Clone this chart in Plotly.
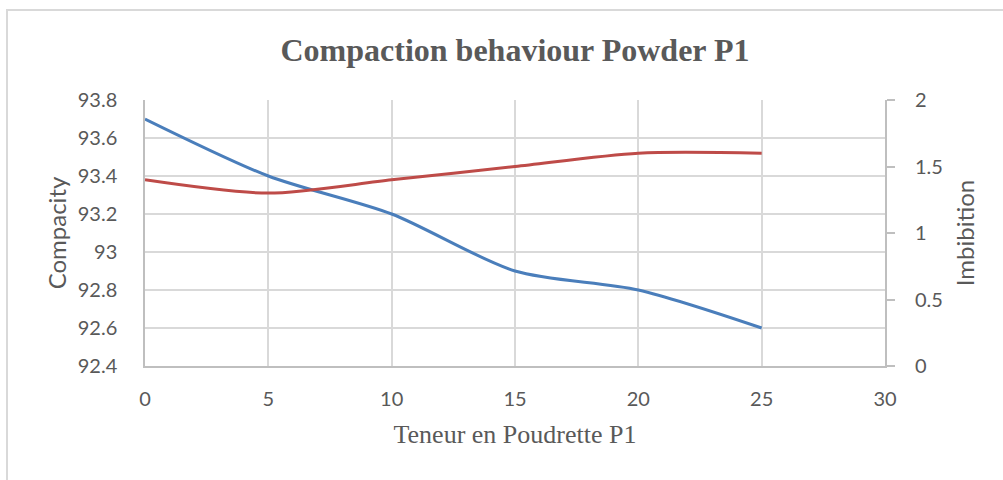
import plotly.graph_objects as go

teneur = [0, 5, 10, 15, 20, 25]
compacity = [93.7, 93.4, 93.2, 92.9, 92.8, 92.6]
imbibition = [1.4, 1.3, 1.4, 1.5, 1.6, 1.6]

x_ticks = [0, 5, 10, 15, 20, 25, 30]
y1_ticks = [92.4, 92.6, 92.8, 93, 93.2, 93.4, 93.6, 93.8]
y1_labels = ["92.4", "92.6", "92.8", "93", "93.2", "93.4", "93.6", "93.8"]
y2_ticks = [0, 0.5, 1, 1.5, 2]
y2_labels = ["0", "0.5", "1", "1.5", "2"]

tick_font = dict(family="Lato, Open Sans, sans-serif", size=20, color="#595959")
grid = "#D9D9D9"

fig = go.Figure()
fig.add_trace(go.Scatter(x=teneur, y=compacity, mode="lines", name="Compacity",
                         line=dict(color="#4A7EBB", width=3, shape="spline", smoothing=0.8),
                         yaxis="y"))
fig.add_trace(go.Scatter(x=teneur, y=imbibition, mode="lines", name="Imbibition",
                         line=dict(color="#BE4B48", width=3, shape="spline", smoothing=0.8),
                         yaxis="y2"))

W, H = 1003, 480
ml, mt = 145, 100
pw, ph = 740, 266
mr, mb = W - ml - pw, H - mt - ph

def px(x):
    return (x - ml) / pw

def py(y):
    return (H - mb - y) / ph

fig.update_layout(
    width=W, height=H,
    margin=dict(l=ml, r=mr, t=mt, b=mb),
    paper_bgcolor="white", plot_bgcolor="white",
    showlegend=False,
    title=dict(text="<b>Compaction behaviour Powder P1</b>",
               font=dict(family="Liberation Serif, Times New Roman, serif", size=32, color="#595959"),
               x=0.5, xref="paper", xanchor="center", y=1 - 50 / H, yref="container", yanchor="middle"),
    xaxis=dict(range=[0, 30], tickvals=x_ticks, ticktext=[str(v) for v in x_ticks],
               showgrid=True, gridcolor=grid, gridwidth=1.5,
               showline=True, linecolor="#BFBFBF", linewidth=2,
               ticks="", tickfont=tick_font, ticklabelstandoff=14,
               title=dict(text="Teneur en Poudrette P1",
                          font=dict(family="Liberation Serif, Times New Roman, serif", size=26, color="#595959"),
                          standoff=16),
               zeroline=False, fixedrange=True),
    yaxis=dict(range=[92.4, 93.8], tickvals=y1_ticks, ticktext=y1_labels,
               showgrid=True, gridcolor=grid, gridwidth=1.5,
               showline=True, linecolor="#BFBFBF", linewidth=1.5,
               ticks="", tickfont=tick_font, ticklabelstandoff=22,
               title=dict(text="Compacity",
                          font=dict(family="Lato, Open Sans, sans-serif", size=24, color="#595959"),
                          standoff=4),
               zeroline=False, fixedrange=True),
    yaxis2=dict(range=[0, 2], tickvals=y2_ticks, ticktext=y2_labels,
                overlaying="y", side="right",
                showgrid=False, showline=True, linecolor="#BFBFBF", linewidth=2,
                ticks="outside", ticklen=8, tickcolor="#BFBFBF", tickwidth=1.5,
                tickfont=tick_font, ticklabelstandoff=16,
                title=dict(text="Imbibition",
                           font=dict(family="Lato, Open Sans, sans-serif", size=24, color="#595959"),
                           standoff=15),
                zeroline=False, fixedrange=True),
    shapes=[dict(type="rect", xref="paper", yref="paper",
                 x0=px(7), x1=px(1015), y0=py(495), y1=py(10),
                 line=dict(color="#D9D9D9", width=2), fillcolor="rgba(0,0,0,0)", layer="below")],
)

fig.write_html("out.html", config={"displayModeBar": False},
               post_script="document.body.style.margin='0';")
